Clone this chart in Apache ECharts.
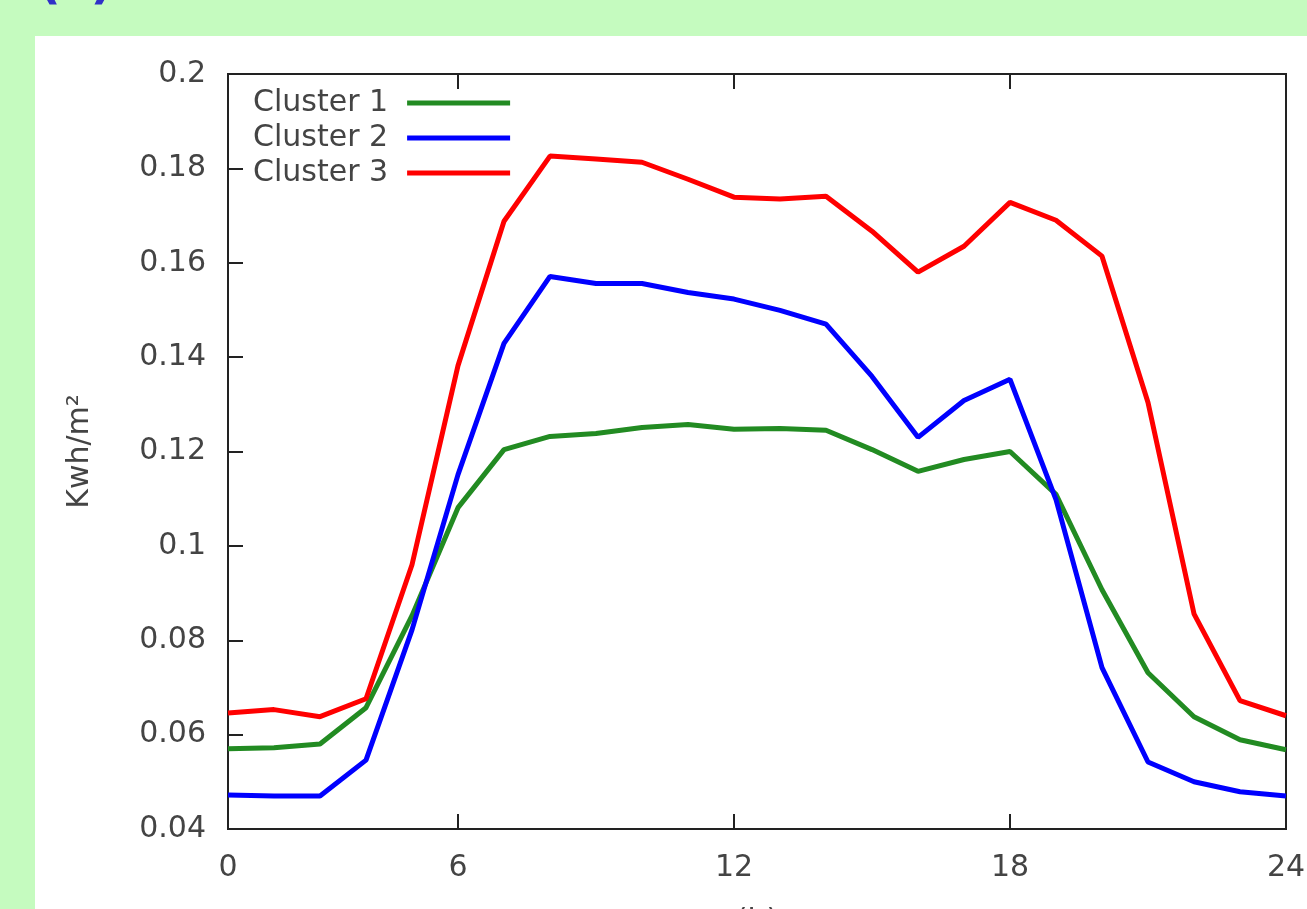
<!DOCTYPE html>
<html>
<head>
<meta charset="utf-8">
<script src="https://cdn.jsdelivr.net/npm/echarts@6/dist/echarts.min.js"></script>
<style>
html, body { margin: 0; padding: 0; background: #c5fbbf; }
#chart { width: 1307px; height: 909px; }
</style>
</head>
<body>
<div id="chart"></div>
<script>
var hours = [1, 2, 3, 4, 5, 6, 7, 8, 9, 10, 11, 12, 13, 14, 15, 16, 17, 18, 19, 20, 21, 22, 23, 24];
var cluster1 = [0.0570, 0.0572, 0.0580, 0.0657, 0.0852, 0.1081, 0.1204, 0.1232, 0.1238, 0.1251, 0.1257, 0.1247,
	0.1249, 0.1245, 0.1204, 0.1158, 0.1183, 0.1200, 0.1109, 0.0907, 0.0731, 0.0638, 0.0589, 0.0568];
var cluster2 = [0.0472, 0.0470, 0.0470, 0.0546, 0.0822, 0.1151, 0.1429, 0.1571, 0.1556, 0.1556, 0.1537, 0.1523,
	0.1499, 0.1470, 0.1359, 0.1230, 0.1308, 0.1353, 0.1098, 0.0742, 0.0542, 0.0500, 0.0479, 0.0470];
var cluster3 = [0.0646, 0.0653, 0.0638, 0.0676, 0.0960, 0.1382, 0.1688, 0.1826, 0.1820, 0.1813, 0.1777, 0.1739,
	0.1735, 0.1741, 0.1667, 0.1580, 0.1635, 0.1728, 0.1690, 0.1614, 0.1304, 0.0856, 0.0672, 0.0640];
var seriesNames = ['Cluster 1', 'Cluster 2', 'Cluster 3'];
var seriesColors = ['#228b22', '#0000ff', '#ff0000'];
var xTickValues = [1, 6, 12, 18, 24];
var xTickLabels = ['0', '6', '12', '18', '24']; // 横轴标签（第一个点标为 0）

var font = 'DejaVu Sans';
var txtColor = '#444';

function pairs(ys) {
	return hours.map(function (h, i) { return [h, ys[i]]; });
}

var chart = echarts.init(document.getElementById('chart'));
chart.setOption({
	backgroundColor: '#c5fbbf',
	animation: false,
	graphic: [
		{ type: 'rect', z: -10, shape: { x: 35, y: 36, width: 1272, height: 873 }, style: { fill: '#ffffff' } },
		{ type: 'text', left: 38, top: -40, style: { text: '(c)', font: 'bold 50px ' + font, fill: '#3030c8' } }
	],
	grid: {
		left: 228, top: 74, right: 21, bottom: 80,
		outerBoundsMode: 'none',
		containLabel: false,
		show: true, borderColor: '#222', borderWidth: 2, backgroundColor: 'transparent'
	},
	legend: {
		orient: 'vertical',
		align: 'right',
		left: 248,
		top: 83,
		itemWidth: 103,
		itemHeight: 5,
		itemGap: 5,
		icon: 'rect',
		data: seriesNames,
		textStyle: { fontFamily: font, fontSize: 30, color: txtColor, lineHeight: 30, padding: [0, 14, 0, 0] }
	},
	xAxis: [{
		type: 'value',
		min: 1,
		max: 24,
		name: '(h)',
		nameLocation: 'middle',
		nameGap: 78,
		nameTextStyle: { fontFamily: font, fontSize: 30, color: txtColor },
		axisLine: { lineStyle: { color: '#222', width: 2 } },
		axisTick: { inside: true, length: 15, customValues: xTickValues, lineStyle: { color: '#222', width: 2 } },
		axisLabel: {
			customValues: xTickValues,
			margin: 24,
			fontFamily: font, fontSize: 30, color: txtColor,
			formatter: function (v) { return xTickLabels[xTickValues.indexOf(v)]; }
		},
		splitLine: { show: false }
	}, {
		type: 'value',
		position: 'top',
		min: 1,
		max: 24,
		axisLine: { lineStyle: { color: '#222', width: 2 } },
		axisTick: { inside: true, length: 15, customValues: xTickValues, lineStyle: { color: '#222', width: 2 } },
		axisLabel: { show: false },
		splitLine: { show: false }
	}],
	yAxis: {
		type: 'value',
		min: 0.04,
		max: 0.2,
		interval: 0.02,
		name: 'Kwh/m²',
		nameLocation: 'middle',
		nameGap: 133,
		nameTextStyle: { fontFamily: font, fontSize: 30, color: txtColor },
		axisLine: { show: true, lineStyle: { color: '#222', width: 2 } },
		axisTick: { show: true, inside: true, length: 15, lineStyle: { color: '#222', width: 2 } },
		axisLabel: {
			margin: 22, fontFamily: font, fontSize: 30, color: txtColor,
			formatter: function (v) { return String(+v.toFixed(2)); }
		},
		splitLine: { show: false }
	},
	series: [cluster1, cluster2, cluster3].map(function (ys, i) {
		return {
			name: seriesNames[i],
			type: 'line',
			data: pairs(ys),
			symbol: 'none',
			lineStyle: { color: seriesColors[i], width: 5 },
			itemStyle: { color: seriesColors[i] }
		};
	})
});
</script>
</body>
</html>
